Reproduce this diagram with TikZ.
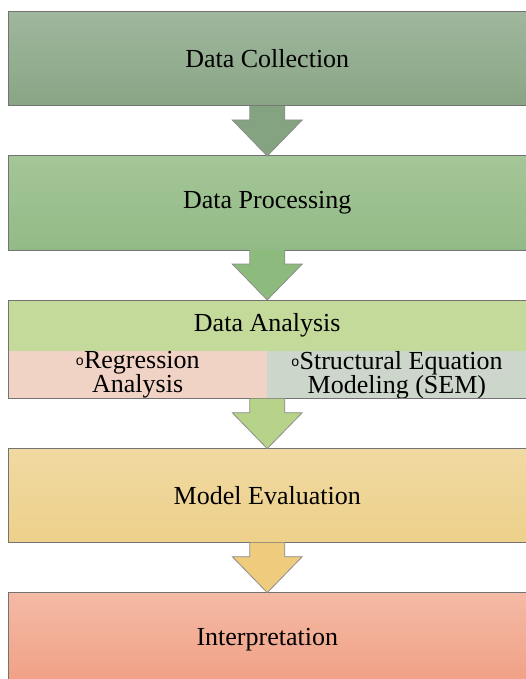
\documentclass[tikz,border=0pt]{standalone}
\usepackage{fontspec}
\setmainfont{Liberation Serif}
\newfontfamily\bulletfont{Liberation Mono}
\usetikzlibrary{positioning,calc,fit}
\definecolor{dcTop}{HTML}{9FB79D}
\definecolor{dcBot}{HTML}{89A585}
\definecolor{dpTop}{HTML}{A5C698}
\definecolor{dpBot}{HTML}{92BA86}
\definecolor{daGreen}{HTML}{C4DA9A}
\definecolor{regPink}{HTML}{F1D3C6}
\definecolor{semGrey}{HTML}{CCD6CA}
\definecolor{meTop}{HTML}{F0D9A2}
\definecolor{meBot}{HTML}{EDD08A}
\definecolor{ipTop}{HTML}{F4BAA5}
\definecolor{ipBot}{HTML}{F19F84}
\definecolor{arrA}{HTML}{84A381}
\definecolor{arrB}{HTML}{8DBB7E}
\definecolor{arrC}{HTML}{B7D389}
\definecolor{arrD}{HTML}{EECB7D}
\tikzset{
	stage/.style={
		draw=black!55, line width=1pt, outer sep=0pt, inner sep=0pt,
		minimum width=518.5pt, minimum height=94pt,
		font=\rmfamily\fontsize{26}{24}\selectfont},
	halfbox/.style={
		outer sep=0pt, inner sep=0pt, align=center,
		minimum width=259.25pt, minimum height=45pt,
		font=\rmfamily\fontsize{26}{24}\selectfont},
	flowarrow/.style={draw=black!45, line width=0.8pt}
}
\newcommand{\bul}{\raisebox{3pt}{\bulletfont\fontsize{14}{14}\selectfont o}}
% block arrow from the bottom of #1 to the top of #2
\newcommand{\flow}[3]{%
	\fill[flowarrow,#3] ($(#1.south)+(-17.5,0)$) -- ($(#2.north)+(-17.5,36)$)
		-- ($(#2.north)+(-35,36)$) -- (#2.north) -- ($(#2.north)+(35,36)$)
		-- ($(#2.north)+(17.5,36)$) -- ($(#1.south)+(17.5,0)$);}

\begin{document}
\begin{tikzpicture}[x=1pt,y=1pt,node distance=50pt]
	\clip (0,0) rectangle (526,-679);
	\node[stage, top color=dcTop, bottom color=dcBot] (dc) at (267.25,-59) {Data Collection};
	\node[stage, below=of dc, top color=dpTop, bottom color=dpBot] (dp) {Data Processing};
	\node[stage, below=of dp, draw=none, minimum height=51pt, fill=daGreen] (da) {Data Analysis};
	\node[halfbox, anchor=north west, fill=regPink] (reg) at (da.south west) {\bul Regression\\Analysis};
	\node[halfbox, anchor=north east, fill=semGrey] (sem) at (da.south east) {\bul Structural Equation\\Modeling (SEM)};
	\node[fit=(da)(reg)(sem), draw=black!55, line width=1pt, inner sep=0pt, outer sep=0pt] (anl) {};
	\node[stage, below=of anl, top color=meTop, bottom color=meBot] (me) {Model Evaluation};
	\node[stage, below=of me, top color=ipTop, bottom color=ipBot] (ip) {Interpretation};
	\flow{dc}{dp}{fill=arrA}
	\flow{dp}{da}{fill=arrB}
	\flow{anl}{me}{fill=arrC}
	\flow{me}{ip}{fill=arrD}
\end{tikzpicture}
\end{document}
